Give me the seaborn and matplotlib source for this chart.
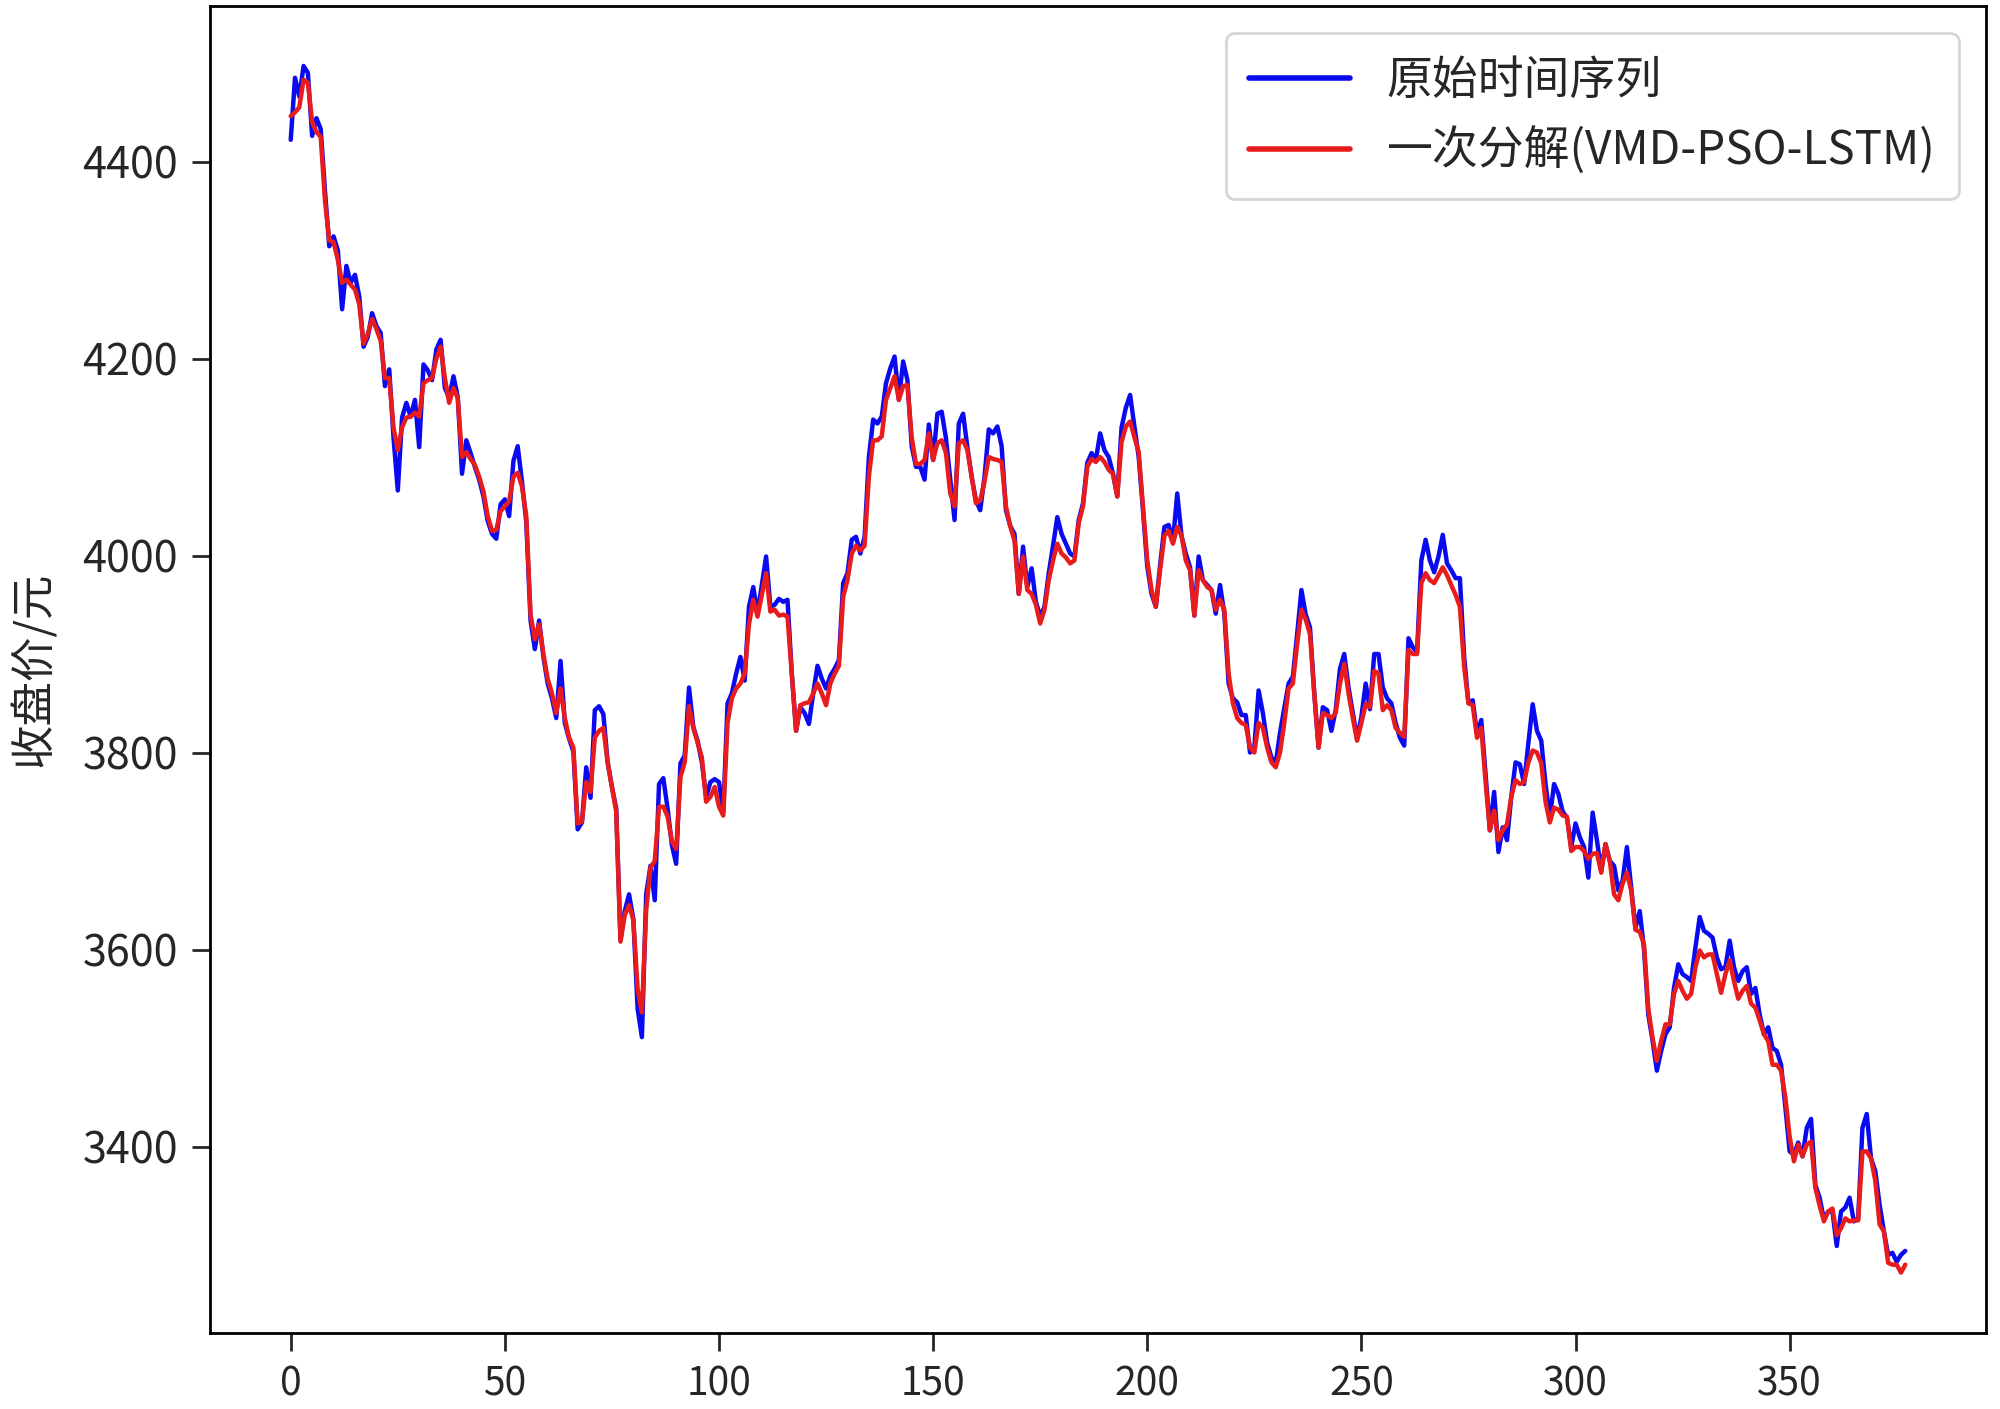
import numpy as np
import pandas as pd
import matplotlib
matplotlib.use("Agg")
import matplotlib.pyplot as plt
import seaborn as sns

# 收盘价：原始序列 与 VMD-PSO-LSTM 预测
close_raw = [
    4422, 4485, 4466, 4497, 4490, 4426, 4444, 4433, 4370, 4314,
    4324, 4310, 4250, 4294, 4277, 4285, 4263, 4212, 4222, 4246,
    4233, 4226, 4172, 4189, 4120, 4066, 4140, 4155, 4141, 4158,
    4110, 4194, 4188, 4178, 4209, 4219, 4170, 4160, 4182, 4161,
    4083, 4117, 4104, 4090, 4077, 4060, 4035, 4022, 4017, 4052,
    4057, 4040, 4096, 4111, 4075, 4034, 3934, 3905, 3934, 3897,
    3870, 3855, 3835, 3893, 3830, 3814, 3801, 3722, 3729, 3785,
    3754, 3843, 3847, 3839, 3790, 3765, 3743, 3610, 3639, 3656,
    3631, 3540, 3511, 3656, 3685, 3650, 3768, 3774, 3743, 3706,
    3687, 3789, 3797, 3866, 3826, 3812, 3790, 3755, 3770, 3773,
    3770, 3740, 3850, 3860, 3880, 3897, 3873, 3948, 3968, 3941,
    3970, 3999, 3948, 3950, 3956, 3953, 3955, 3880, 3822, 3846,
    3840, 3829, 3860, 3888, 3875, 3865, 3878, 3885, 3894, 3972,
    3982, 4016, 4019, 4002, 4019, 4100, 4138, 4134, 4141, 4175,
    4190, 4202, 4158, 4197, 4178, 4111, 4090, 4090, 4077, 4133,
    4097, 4144, 4146, 4119, 4077, 4036, 4134, 4144, 4110, 4080,
    4056, 4046, 4080, 4128, 4124, 4131, 4111, 4046, 4030, 4022,
    3961, 4009, 3968, 3987, 3953, 3938, 3948, 3982, 4010, 4039,
    4022, 4012, 4002, 3999, 4036, 4053, 4094, 4104, 4097, 4124,
    4107, 4100, 4083, 4060, 4130, 4150, 4163, 4131, 4100, 4046,
    3989, 3961, 3948, 3990, 4029, 4031, 4014, 4063, 4020, 4002,
    3988, 3939, 3999, 3975, 3970, 3965, 3941, 3970, 3941, 3870,
    3855, 3851, 3838, 3838, 3800, 3805, 3863, 3840, 3810, 3795,
    3789, 3820, 3845, 3870, 3877, 3920, 3965, 3940, 3927, 3860,
    3805, 3846, 3843, 3822, 3843, 3885, 3900, 3866, 3840, 3814,
    3836, 3870, 3844, 3900, 3900, 3866, 3855, 3850, 3830, 3815,
    3807, 3916, 3907, 3902, 3995, 4016, 3995, 3983, 3999, 4021,
    3992, 3985, 3977, 3977, 3897, 3850, 3853, 3819, 3833, 3778,
    3721, 3760, 3699, 3724, 3711, 3755, 3790, 3788, 3768, 3810,
    3849, 3822, 3812, 3768, 3734, 3768, 3758, 3740, 3734, 3704,
    3728, 3714, 3704, 3673, 3739, 3711, 3680, 3707, 3690, 3685,
    3660, 3670, 3704, 3663, 3622, 3639, 3600, 3534, 3507, 3477,
    3497, 3514, 3521, 3561, 3585, 3575, 3572, 3568, 3602, 3633,
    3619, 3616, 3612, 3592, 3580, 3582, 3609, 3582, 3568, 3578,
    3582, 3555, 3561, 3534, 3514, 3521, 3500, 3497, 3483, 3440,
    3395, 3392, 3404, 3390, 3419, 3428, 3361, 3348, 3326, 3334,
    3334, 3299, 3334, 3338, 3348, 3324, 3327, 3419, 3433, 3388,
    3375, 3341, 3314, 3290, 3292, 3283, 3290, 3294,
]

close_pred = [
    4446, 4450, 4455, 4483, 4480, 4440, 4430, 4425, 4360, 4320,
    4318, 4300, 4277, 4280, 4275, 4270, 4255, 4215, 4225, 4240,
    4230, 4218, 4180, 4180, 4130, 4107, 4130, 4140, 4141, 4145,
    4141, 4175, 4178, 4180, 4200, 4212, 4180, 4155, 4170, 4160,
    4100, 4105, 4098, 4092, 4080, 4065, 4040, 4025, 4026, 4045,
    4050, 4055, 4080, 4084, 4070, 4040, 3940, 3915, 3930, 3900,
    3875, 3860, 3840, 3865, 3835, 3815, 3805, 3728, 3730, 3770,
    3760, 3815, 3822, 3825, 3790, 3765, 3740, 3608, 3635, 3645,
    3630, 3560, 3536, 3640, 3683, 3690, 3745, 3745, 3735, 3710,
    3702, 3775, 3790, 3847, 3825, 3810, 3795, 3750, 3755, 3765,
    3745, 3736, 3830, 3855, 3865, 3870, 3880, 3930, 3955, 3938,
    3960, 3982, 3943, 3945, 3939, 3940, 3938, 3880, 3822, 3848,
    3850, 3851, 3860, 3870, 3860, 3848, 3870, 3880, 3888, 3958,
    3975, 4002, 4010, 4005, 4010, 4080, 4117, 4117, 4121, 4158,
    4170, 4182, 4158, 4172, 4173, 4120, 4093, 4093, 4097, 4124,
    4097, 4114, 4117, 4104, 4063, 4050, 4114, 4117, 4107, 4080,
    4053, 4056, 4075, 4100, 4098, 4097, 4095, 4050, 4030, 4015,
    3961, 3999, 3965, 3961, 3950, 3931, 3945, 3975, 3995, 4012,
    4002, 3998, 3992, 3995, 4033, 4050, 4090, 4098, 4095, 4100,
    4095, 4087, 4083, 4060, 4115, 4131, 4136, 4120, 4105, 4050,
    3995, 3965, 3948, 3985, 4020, 4025, 4012, 4029, 4020, 3995,
    3985, 3939, 3985, 3975, 3968, 3965, 3945, 3955, 3945, 3880,
    3850, 3835, 3830, 3828, 3805, 3800, 3830, 3825, 3805, 3790,
    3785, 3800, 3830, 3865, 3870, 3910, 3945, 3935, 3920, 3860,
    3805, 3840, 3838, 3835, 3840, 3870, 3890, 3860, 3835, 3812,
    3830, 3849, 3846, 3883, 3880, 3843, 3848, 3843, 3825, 3820,
    3816, 3904, 3900, 3900, 3972, 3982, 3975, 3972, 3980, 3988,
    3980, 3970, 3960, 3948, 3887, 3850, 3848, 3815, 3825, 3770,
    3721, 3741, 3711, 3721, 3727, 3755, 3772, 3768, 3770, 3790,
    3802, 3800, 3789, 3750, 3729, 3744, 3742, 3736, 3735, 3700,
    3704, 3704, 3700, 3692, 3697, 3698, 3678, 3707, 3690, 3656,
    3650, 3667, 3678, 3660, 3620, 3618, 3605, 3540, 3510, 3487,
    3507, 3524, 3524, 3555, 3568, 3558, 3550, 3555, 3582, 3599,
    3592, 3595, 3595, 3575, 3556, 3575, 3589, 3568, 3550, 3558,
    3563, 3545, 3541, 3528, 3514, 3507, 3483, 3483, 3477, 3450,
    3410, 3385, 3402, 3390, 3402, 3405, 3358, 3340, 3324, 3334,
    3337, 3310, 3317, 3327, 3324, 3325, 3325, 3395, 3395, 3388,
    3365, 3321, 3314, 3282, 3280, 3280, 3272, 3280,
]

series_names = ["原始时间序列", "一次分解(VMD-PSO-LSTM)"]
series_colors = ["#0a0af0", "#e81c1c"]


def main():
    n = len(close_raw)
    df = pd.DataFrame({
        "t": np.concatenate([np.arange(n), np.arange(len(close_pred))]),
        "price": close_raw + close_pred,
        "series": [series_names[0]] * n + [series_names[1]] * len(close_pred),
    })

    sns.set_style("ticks")
    plt.rcParams["font.family"] = ["Noto Sans CJK SC", "DejaVu Sans"]
    plt.rcParams["axes.unicode_minus"] = False

    fig = plt.figure(figsize=(20, 14.09), dpi=100)
    ax = fig.add_axes([0.105, 0.054, 0.888, 0.942])

    sns.lineplot(
        data=df, x="t", y="price", hue="series",
        hue_order=series_names, palette=series_colors,
        linewidth=3.2, ax=ax,
    )

    ax.set_xlabel("")
    ax.set_ylabel("收盘价/元", fontsize=32, labelpad=18)
    ax.set_xticks(np.arange(0, 351, 50))
    ax.set_yticks(np.arange(3400, 4401, 200))
    ax.tick_params(axis="both", labelsize=28, length=13, width=2, pad=10)
    ax.tick_params(axis="y", labelsize=31)
    for side in ["top", "right", "bottom", "left"]:
        ax.spines[side].set_visible(True)
        ax.spines[side].set_linewidth(2)
        ax.spines[side].set_color("black")

    leg = ax.legend(loc="upper right", fontsize=33, frameon=True,
                    handlelength=2.2, handletextpad=0.8, borderpad=0.5,
                    borderaxespad=0.6)
    leg.get_frame().set_edgecolor("#cccccc")
    leg.get_frame().set_linewidth(2)
    for line in leg.get_lines():
        line.set_linewidth(4)

    fig.savefig("out.png", dpi=100)
    plt.close(fig)


if __name__ == "__main__":
    main()
